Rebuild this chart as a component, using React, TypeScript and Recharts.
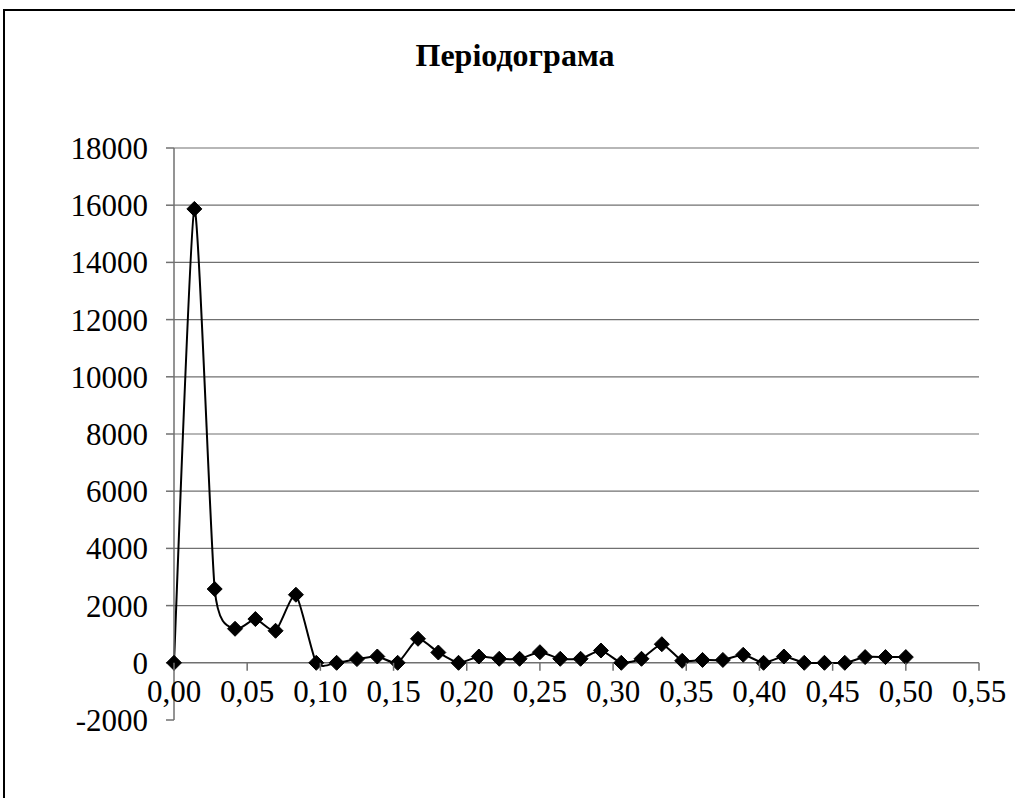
import React from "react";
import { LineChart, Line, XAxis, YAxis, ReferenceLine } from "recharts";

// frequency (cycles per observation) and periodogram values
const frequencies = [
  0, 0.0139, 0.0278, 0.0417, 0.0556, 0.0694, 0.0833, 0.0972, 0.1111, 0.125,
  0.1389, 0.1528, 0.1667, 0.1806, 0.1944, 0.2083, 0.2222, 0.2361, 0.25, 0.2639,
  0.2778, 0.2917, 0.3056, 0.3194, 0.3333, 0.3472, 0.3611, 0.375, 0.3889, 0.4028,
  0.4167, 0.4306, 0.4444, 0.4583, 0.4722, 0.4861, 0.5,
];
const periodogram = [
  0, 15870, 2580, 1190, 1530, 1120, 2380, 0, 0, 130,
  220, 0, 840, 360, 0, 220, 140, 140, 370, 140,
  140, 430, 0, 140, 650, 70, 100, 100, 280, 0,
  220, 0, 0, 0, 200, 200, 200,
];

const xTicks = [0, 0.05, 0.1, 0.15, 0.2, 0.25, 0.3, 0.35, 0.4, 0.45, 0.5, 0.55];
const yTicks = [-2000, 0, 2000, 4000, 6000, 8000, 10000, 12000, 14000, 16000, 18000];
const gridValues = [2000, 4000, 6000, 8000, 10000, 12000, 14000, 16000, 18000];

const TITLE = "Періодограма";

const W = 1015;
const H = 798;
const MARGIN = { top: 148, right: 36, bottom: 0, left: 0 };
const Y_AXIS_W = 174;
const X_AXIS_H = 78;
const PLOT_H = H - MARGIN.top - MARGIN.bottom - X_AXIS_H;
const Y_MIN = -2000;
const Y_MAX = 18000;

const FONT = "'Liberation Serif', 'Times New Roman', serif";
const AXIS_GRAY = "#707070";

const data = frequencies.map((f, i) => ({ f, p: periodogram[i] }));

const fmtX = (v: number) => v.toFixed(2).replace(".", ",");

// Excel-like smoothed line (soft cubic Bezier through the points)
const SMOOTH = 1 / 10;
function excelCurve(context: any) {
  let pts: number[][] = [];
  return {
    areaStart() {},
    areaEnd() {},
    lineStart() {
      pts = [];
    },
    point(x: number, y: number) {
      pts.push([+x, +y]);
    },
    lineEnd() {
      const n = pts.length;
      if (!n) return;
      context.moveTo(pts[0][0], pts[0][1]);
      for (let i = 0; i < n - 1; i++) {
        const p0 = pts[Math.max(i - 1, 0)];
        const p1 = pts[i];
        const p2 = pts[i + 1];
        const p3 = pts[Math.min(i + 2, n - 1)];
        context.bezierCurveTo(
          p1[0] + (p2[0] - p0[0]) * SMOOTH,
          p1[1] + (p2[1] - p0[1]) * SMOOTH,
          p2[0] - (p3[0] - p1[0]) * SMOOTH,
          p2[1] - (p3[1] - p1[1]) * SMOOTH,
          p2[0],
          p2[1]
        );
      }
    },
  };
}

function Diamond(props: any) {
  const { cx, cy } = props;
  if (cx == null || cy == null) return null;
  const r = 7.5;
  return (
    <polygon
      points={`${cx},${cy - r} ${cx + r},${cy} ${cx},${cy + r} ${cx - r},${cy}`}
      fill="#000"
      stroke="#000"
    />
  );
}

// x axis crosses at y = 0, so ticks are drawn up from the plot bottom
function XTick(props: any) {
  const { x, y, payload } = props;
  const zeroY = y - (PLOT_H * (0 - Y_MIN)) / (Y_MAX - Y_MIN);
  return (
    <g>
      <line x1={x} x2={x} y1={zeroY} y2={zeroY + 8} stroke={AXIS_GRAY} strokeWidth={1.5} />
      <text
        x={x}
        y={zeroY + 29}
        textAnchor="middle"
        dominantBaseline="central"
        fontFamily={FONT}
        fontSize={31}
        fill="#000"
      >
        {fmtX(payload.value)}
      </text>
    </g>
  );
}

export default function App() {
  return (
    <div
      style={{
        position: "fixed",
        left: 0,
        top: 0,
        width: W,
        height: H,
        overflow: "hidden",
        background: "#fff",
      }}
    >
      <div
        style={{
          position: "absolute",
          left: 3,
          top: 9,
          width: 1100,
          height: 900,
          border: "2px solid #000",
        }}
      />
      <div
        style={{
          position: "absolute",
          left: 0,
          top: 39,
          width: 1030,
          textAlign: "center",
          fontFamily: FONT,
          fontWeight: "bold",
          fontSize: 32,
          lineHeight: "32px",
          color: "#000",
        }}
      >
        {TITLE}
      </div>
      <div style={{ position: "absolute", left: 0, top: 0 }}>
        <LineChart width={W} height={H} data={data} margin={MARGIN}>
          {gridValues.map((v) => (
            <ReferenceLine key={v} y={v} stroke={AXIS_GRAY} strokeWidth={1.2} />
          ))}
          <ReferenceLine y={0} stroke={AXIS_GRAY} strokeWidth={1.5} />
          <XAxis
            dataKey="f"
            type="number"
            domain={[0, 0.55]}
            ticks={xTicks}
            interval={0}
            height={X_AXIS_H}
            axisLine={false}
            tickLine={false}
            tickSize={0}
            tickMargin={0}
            tick={<XTick />}
          />
          <YAxis
            type="number"
            domain={[Y_MIN, Y_MAX]}
            ticks={yTicks}
            interval={0}
            width={Y_AXIS_W}
            axisLine={{ stroke: AXIS_GRAY, strokeWidth: 1.5 }}
            tickLine={{ stroke: AXIS_GRAY, strokeWidth: 1.5 }}
            tickSize={8}
            tickMargin={18}
            tick={{ fontFamily: FONT, fontSize: 31, fill: "#000" }}
          />
          <Line
            dataKey="p"
            type={excelCurve as any}
            stroke="#000"
            strokeWidth={2}
            dot={<Diamond />}
            activeDot={false}
            isAnimationActive={false}
          />
        </LineChart>
      </div>
    </div>
  );
}
